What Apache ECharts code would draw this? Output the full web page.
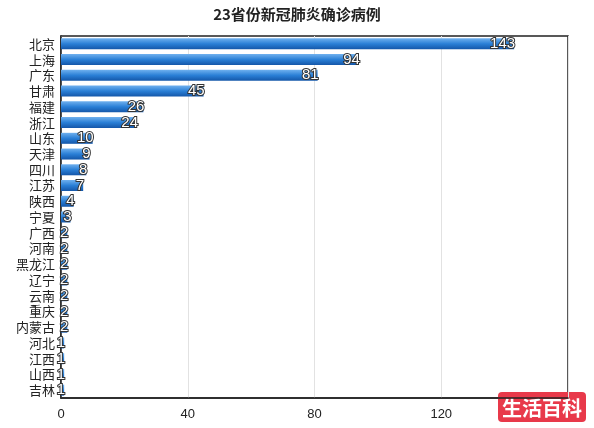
<!DOCTYPE html>
<html>
<head>
<meta charset="utf-8">
<script src="https://cdn.jsdelivr.net/npm/echarts@6/dist/echarts.min.js"></script>
<style>html,body{margin:0;padding:0;background:#fff}#main{width:594px;height:428px}</style>
</head>
<body>
<div id="main"></div>
<script>
// 省份（自上而下）
const provinces = ['北京', '上海', '广东', '甘肃', '福建', '浙江', '山东', '天津', '四川', '江苏', '陕西', '宁夏',
  '广西', '河南', '黑龙江', '辽宁', '云南', '重庆', '内蒙古', '河北', '江西', '山西', '吉林'];
const cases = [143, 94, 81, 45, 26, 24, 10, 9, 8, 7, 4, 3, 2, 2, 2, 2, 2, 2, 2, 1, 1, 1, 1];
const xTicks = [0, 40, 80, 120];

const myChart = echarts.init(document.getElementById('main'));
const option = {
  backgroundColor: '#fff',
  animation: false,
  title: {
    text: '23省份新冠肺炎确诊病例',
    left: 'center',
    top: 2,
    textStyle: { fontSize: 15, fontWeight: 'bold', color: '#222', fontFamily: 'Noto Sans CJK SC' }
  },
  grid: { left: 61, right: 26, top: 36, bottom: 30, show: true, borderColor: '#222', borderWidth: 1.5 },
  xAxis: {
    type: 'value',
    min: 0,
    max: 160,
    interval: 40,
    axisLine: { show: true, lineStyle: { color: '#222', width: 1.5 } },
    axisTick: { show: false },
    axisLabel: {
      color: '#222', fontSize: 13, margin: 10,
      formatter: v => xTicks.indexOf(v) >= 0 ? String(v) : ''
    },
    splitLine: { show: true, lineStyle: { color: '#e2e2e2' } }
  },
  yAxis: {
    type: 'category',
    inverse: true,
    data: provinces,
    axisLine: { show: true, lineStyle: { color: '#222', width: 1.5 } },
    axisTick: { show: false },
    axisLabel: { interval: 0, color: '#222', fontSize: 13, lineHeight: 14, margin: 6, fontFamily: 'Noto Sans CJK SC' }
  },
  series: [{
    type: 'bar',
    data: cases,
    barWidth: 11,
    itemStyle: {
      color: new echarts.graphic.LinearGradient(0, 0, 0, 1, [
        { offset: 0, color: '#6fb0ee' },
        { offset: 0.5, color: '#2a7fd6' },
        { offset: 1, color: '#1456a8' }
      ])
    },
    label: {
      show: true,
      position: 'insideRight',
      offset: [6, 0],
      color: '#fff',
      fontSize: 15,
      textBorderColor: '#333',
      textBorderWidth: 2
    }
  }],
  graphic: [{
    type: 'rect', right: 8, bottom: 6,
    shape: { width: 88, height: 30, r: 4 },
    style: { fill: '#e8394a' }
  }, {
    type: 'text', right: 12, bottom: 10,
    style: { text: '生活百科', fill: '#fff', font: 'bold 20px "Noto Sans CJK SC"' }
  }]
};
myChart.setOption(option);
</script>
</body>
</html>
